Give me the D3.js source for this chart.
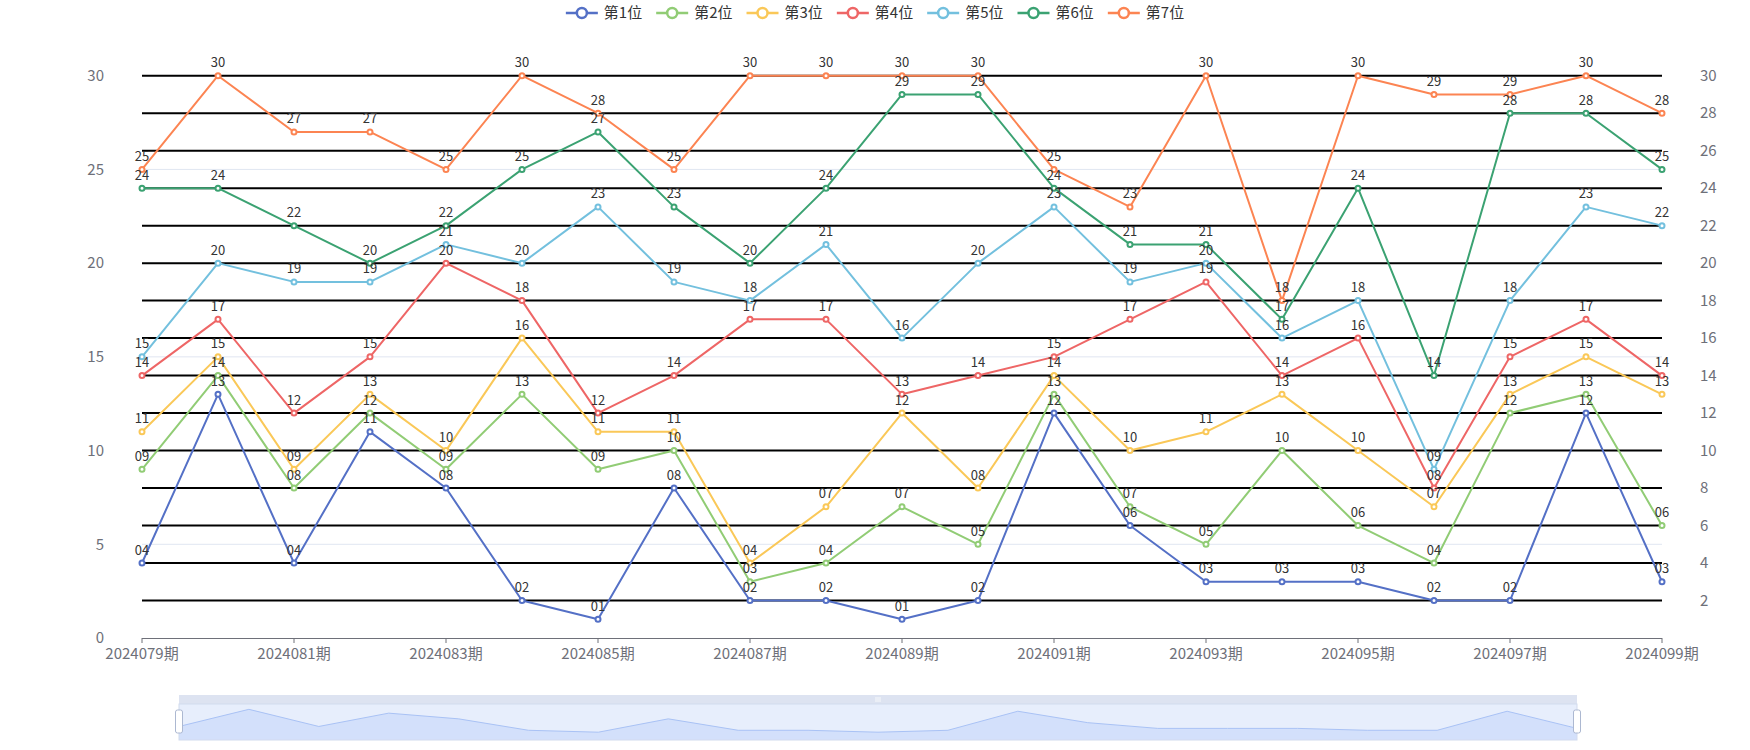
<!DOCTYPE html>
<html>
<head>
<meta charset="utf-8">
<script src="https://cdn.jsdelivr.net/npm/d3@7"></script>
<style>
    body { margin: 0; background: #fff; }
    text { font-family: "Microsoft YaHei", "Noto Sans CJK SC", sans-serif; }
</style>
</head>
<body>
<div id="chart"></div>
<script>
(function() {
    const categories = ['2024079期', '2024080期', '2024081期', '2024082期', '2024083期', '2024084期', '2024085期',
        '2024086期', '2024087期', '2024088期', '2024089期', '2024090期', '2024091期', '2024092期',
        '2024093期', '2024094期', '2024095期', '2024096期', '2024097期', '2024098期', '2024099期'];

    const seriesNames = ['第1位', '第2位', '第3位', '第4位', '第5位', '第6位', '第7位'];
    const colors = ['#5470c6', '#91cc75', '#fac858', '#ee6666', '#73c0de', '#3ba272', '#fc8452'];

    const pos1 = [4, 13, 4, 11, 8, 2, 1, 8, 2, 2, 1, 2, 12, 6, 3, 3, 3, 2, 2, 12, 3];
    const pos2 = [9, 14, 8, 12, 9, 13, 9, 10, 3, 4, 7, 5, 13, 7, 5, 10, 6, 4, 12, 13, 6];
    const pos3 = [11, 15, 9, 13, 10, 16, 11, 11, 4, 7, 12, 8, 14, 10, 11, 13, 10, 7, 13, 15, 13];
    const pos4 = [14, 17, 12, 15, 20, 18, 12, 14, 17, 17, 13, 14, 15, 17, 19, 14, 16, 8, 15, 17, 14];
    const pos5 = [15, 20, 19, 19, 21, 20, 23, 19, 18, 21, 16, 20, 23, 19, 20, 16, 18, 9, 18, 23, 22];
    const pos6 = [24, 24, 22, 20, 22, 25, 27, 23, 20, 24, 29, 29, 24, 21, 21, 17, 24, 14, 28, 28, 25];
    const pos7 = [25, 30, 27, 27, 25, 30, 28, 25, 30, 30, 30, 30, 25, 23, 30, 18, 30, 29, 29, 30, 28];
    const allSeries = [pos1, pos2, pos3, pos4, pos5, pos6, pos7];

    const leftTicks = [0, 5, 10, 15, 20, 25, 30];
    const rightTicks = [2, 4, 6, 8, 10, 12, 14, 16, 18, 20, 22, 24, 26, 28, 30];

    const W = 1750, H = 750;
    const plot = {left: 142, right: 1662, top: 75.7, bottom: 638};

    const svg = d3.select('#chart').append('svg')
        .attr('width', W).attr('height', H);

    const x = d3.scalePoint().domain(categories).range([plot.left, plot.right]);
    const y = d3.scaleLinear().domain([0, 30]).range([plot.bottom, plot.top]);

    // left split lines (faint)
    svg.append('g').selectAll('line')
        .data(leftTicks.filter(d => d > 0))
        .enter().append('line')
        .attr('x1', plot.left).attr('x2', plot.right)
        .attr('y1', d => y(d)).attr('y2', d => y(d))
        .attr('stroke', '#E0E6F1').attr('stroke-width', 1);

    // right split lines (black)
    svg.append('g').selectAll('line')
        .data(rightTicks)
        .enter().append('line')
        .attr('x1', plot.left).attr('x2', plot.right)
        .attr('y1', d => y(d)).attr('y2', d => y(d))
        .attr('stroke', '#000').attr('stroke-width', 2);

    // left axis labels
    svg.append('g').selectAll('text')
        .data(leftTicks)
        .enter().append('text')
        .attr('x', 104).attr('y', d => y(d))
        .attr('dy', '0.35em')
        .attr('text-anchor', 'end')
        .attr('font-size', 15)
        .attr('fill', '#6E7079')
        .text(d => d);

    // right axis labels
    svg.append('g').selectAll('text')
        .data(rightTicks)
        .enter().append('text')
        .attr('x', 1700).attr('y', d => y(d))
        .attr('dy', '0.35em')
        .attr('font-size', 15)
        .attr('fill', '#6E7079')
        .text(d => d);

    // x axis
    const xAxis = svg.append('g');
    xAxis.append('line')
        .attr('x1', plot.left).attr('x2', plot.right)
        .attr('y1', plot.bottom + 0.5).attr('y2', plot.bottom + 0.5)
        .attr('stroke', '#6E7079');
    const shown = categories.filter((c, i) => i % 2 === 0);
    xAxis.selectAll('.tick')
        .data(shown)
        .enter().append('line')
        .attr('x1', d => x(d)).attr('x2', d => x(d))
        .attr('y1', plot.bottom).attr('y2', plot.bottom + 5)
        .attr('stroke', '#6E7079');
    xAxis.selectAll('text')
        .data(shown)
        .enter().append('text')
        .attr('x', d => x(d)).attr('y', 654)
        .attr('dy', '0.35em')
        .attr('text-anchor', 'middle')
        .attr('font-size', 15)
        .attr('fill', '#6E7079')
        .text(d => d);

    // series lines
    const line = d3.line()
        .x((d, i) => x(categories[i]))
        .y(d => y(d));

    allSeries.forEach((vals, s) => {
        const g = svg.append('g');
        g.append('path')
            .datum(vals)
            .attr('d', line)
            .attr('fill', 'none')
            .attr('stroke', colors[s])
            .attr('stroke-width', 2)
            .attr('stroke-linejoin', 'round');
        g.selectAll('circle')
            .data(vals)
            .enter().append('circle')
            .attr('cx', (d, i) => x(categories[i]))
            .attr('cy', d => y(d))
            .attr('r', 2.5)
            .attr('fill', '#fff')
            .attr('stroke', colors[s])
            .attr('stroke-width', 2);
    });

    // data labels on top
    const fmt = d3.format('02d');
    allSeries.forEach((vals, s) => {
        svg.append('g').selectAll('text')
            .data(vals)
            .enter().append('text')
            .attr('x', (d, i) => x(categories[i]))
            .attr('y', d => y(d) - 13)
            .attr('dy', '0.35em')
            .attr('text-anchor', 'middle')
            .attr('font-size', 13)
            .attr('fill', '#333')
            .attr('stroke', '#fff')
            .attr('stroke-width', 0)
            .text(d => fmt(d));
    });

    // legend
    const legend = svg.append('g');
    const items = legend.selectAll('g')
        .data(seriesNames)
        .enter().append('g');
    items.append('line')
        .attr('x1', 0).attr('x2', 32)
        .attr('y1', 13).attr('y2', 13)
        .attr('stroke', (d, i) => colors[i])
        .attr('stroke-width', 2.5);
    items.append('circle')
        .attr('cx', 16).attr('cy', 13).attr('r', 5)
        .attr('fill', '#fff')
        .attr('stroke', (d, i) => colors[i])
        .attr('stroke-width', 2.5);
    items.append('text')
        .attr('x', 38).attr('y', 13)
        .attr('dy', '0.35em')
        .attr('font-size', 15)
        .attr('fill', '#333')
        .text(d => d);
    let offset = 0;
    const widths = [];
    items.each(function() {
        const w = 38 + d3.select(this).select('text').node().getComputedTextLength();
        widths.push(w);
    });
    const gap = 14;
    const total = d3.sum(widths) + gap * (widths.length - 1);
    offset = W / 2 - total / 2;
    items.attr('transform', (d, i) => {
        const t = `translate(${offset},0)`;
        offset += widths[i] + gap;
        return t;
    });

    // dataZoom slider
    const slider = {left: 179, right: 1577, top: 704, bottom: 740, handleTop: 695};
    const sz = svg.append('g');
    sz.append('rect')
        .attr('x', slider.left).attr('y', slider.handleTop)
        .attr('width', slider.right - slider.left).attr('height', slider.top - slider.handleTop)
        .attr('fill', '#dde3f1');
    [-2, 0, 2].forEach(dx => {
        sz.append('line')
            .attr('x1', (slider.left + slider.right) / 2 + dx).attr('x2', (slider.left + slider.right) / 2 + dx)
            .attr('y1', 697).attr('y2', 702)
            .attr('stroke', '#fff').attr('stroke-width', 0.8);
    });
    sz.append('rect')
        .attr('x', slider.left).attr('y', slider.top)
        .attr('width', slider.right - slider.left).attr('height', slider.bottom - slider.top)
        .attr('fill', '#e7eefc');

    const sx = d3.scalePoint().domain(categories).range([slider.left, slider.right]);
    const sy = d3.scaleLinear().domain([-3.1, 15.8]).range([slider.bottom, slider.top]);
    const area = d3.area()
        .x((d, i) => sx(categories[i]))
        .y0(slider.bottom)
        .y1(d => sy(d));
    sz.append('path')
        .datum(pos1)
        .attr('d', area)
        .attr('fill', '#d3e0fb');
    sz.append('path')
        .datum(pos1)
        .attr('d', d3.line().x((d, i) => sx(categories[i])).y(d => sy(d)))
        .attr('fill', 'none')
        .attr('stroke', '#a9c2f5')
        .attr('stroke-width', 1);
    sz.append('rect')
        .attr('x', slider.left).attr('y', slider.top)
        .attr('width', slider.right - slider.left).attr('height', slider.bottom - slider.top)
        .attr('fill', 'none')
        .attr('stroke', '#d2dbee');
    [slider.left, slider.right].forEach(hx => {
        sz.append('rect')
            .attr('x', hx - 3.5).attr('y', 710)
            .attr('width', 7).attr('height', 23)
            .attr('rx', 2)
            .attr('fill', '#fff')
            .attr('stroke', '#acb8d1')
            .attr('stroke-width', 1);
    });
})();
</script>
</body>
</html>
